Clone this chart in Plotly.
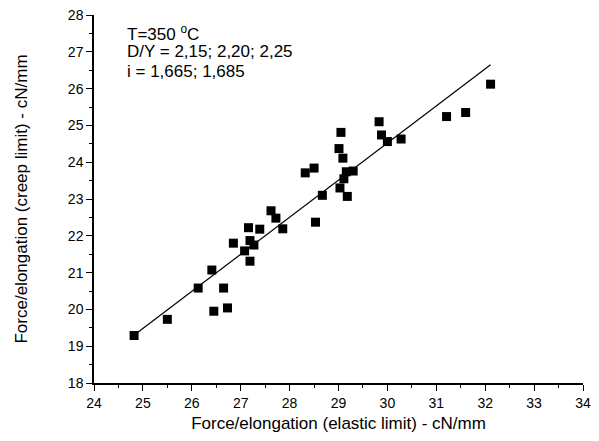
import plotly.graph_objects as go

# Data
elastic = [24.82, 25.50, 26.13, 26.41, 26.45, 26.65, 26.73, 26.85,
           27.08, 27.16, 27.19, 27.27, 27.19, 27.39, 27.62, 27.72, 27.86,
           28.32, 28.50, 28.67, 28.53,
           29.05, 29.01, 29.09, 29.16, 29.30, 29.11, 29.03, 29.18,
           29.83, 29.88, 30.00, 30.28,
           31.21, 31.60, 32.11]
creep = [19.29, 19.73, 20.58, 21.07, 19.95, 20.58, 20.04, 21.80,
         21.59, 22.22, 21.87, 21.75, 21.31, 22.18, 22.68, 22.48, 22.19,
         23.71, 23.84, 23.10, 22.37,
         24.81, 24.37, 24.11, 23.74, 23.76, 23.55, 23.30, 23.07,
         25.10, 24.74, 24.56, 24.63,
         25.24, 25.35, 26.12]

# Fit line endpoints
fit_x = [24.85, 32.11]
fit_y = [19.33, 26.65]

x_ticks = [24, 25, 26, 27, 28, 29, 30, 31, 32, 33, 34]
y_ticks = [18, 19, 20, 21, 22, 23, 24, 25, 26, 27, 28]

notes = ["T=350 <sup>o</sup>C", "D/Y = 2,15; 2,20; 2,25", "i = 1,665; 1,685"]

FONT = "Arial, Liberation Sans, sans-serif"

fig = go.Figure()
fig.add_trace(go.Scatter(x=fit_x, y=fit_y, mode="lines",
                         line=dict(color="black", width=1.2), showlegend=False))
fig.add_trace(go.Scatter(x=elastic, y=creep, mode="markers",
                         marker=dict(symbol="square", size=9, color="black"),
                         showlegend=False))

axis_common = dict(
    showline=True, linecolor="black", linewidth=1.5, mirror=False,
    ticks="outside", ticklen=6, tickwidth=1.3, tickcolor="black",
    showgrid=False, zeroline=False, ticklabeloverflow="allow", automargin=False,
    tickfont=dict(family=FONT, size=14, color="black"),
    minor=dict(ticks="outside", ticklen=3, tickwidth=1.3, tickcolor="black", dtick=0.5, showgrid=False),
)

fig.update_xaxes(range=[24, 34], tickvals=x_ticks, ticktext=[str(v) for v in x_ticks],
                 title=dict(text="Force/elongation (elastic limit) - cN/mm",
                            font=dict(family=FONT, size=17, color="black"), standoff=11),
                 **axis_common)
fig.update_yaxes(range=[18, 28], tickvals=y_ticks, ticktext=[str(v) for v in y_ticks],
                 title=dict(text="Force/elongation (creep limit) - cN/mm",
                            font=dict(family=FONT, size=17, color="black"), standoff=36),
                 **axis_common)

for i, t in enumerate(notes):
    fig.add_annotation(text=t, xref="paper", yref="paper",
                       x=0.064, y=(383 - (33 + 19 * i)) / 368,
                       xanchor="left", yanchor="middle", showarrow=False,
                       font=dict(family=FONT, size=17, color="black"))

# page body adds an 8px margin, so the figure is sized to fit the 599x441 window
fig.update_layout(width=591, height=425,
                  margin=dict(l=86, r=16, t=7, b=50),
                  plot_bgcolor="white", paper_bgcolor="white")

fig.write_html("out.html")
